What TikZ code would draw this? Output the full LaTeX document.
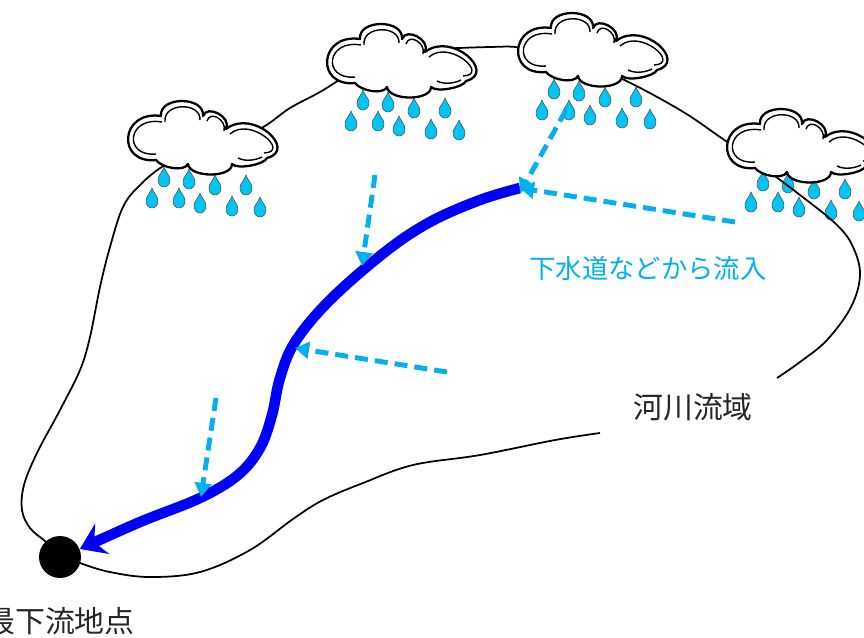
\documentclass[tikz,border=0pt]{standalone}
\usepackage{fontspec}
\newfontfamily\jp{Noto Sans CJK JP}
\usetikzlibrary{arrows.meta,positioning}

\definecolor{inflowc}{RGB}{0,176,240}
\definecolor{rainc}{RGB}{0,196,244}
\definecolor{riverc}{RGB}{0,0,250}

\newcommand{\dropspots}{36/78,61/80,87/86,118/86,24/99,51/99,72/104,104/107,132/108}

\tikzset{
	basin/.style={line width=1pt},
	raindrop/.style={fill=rainc,draw=black!70,line width=0.3pt},
	inflow/.style={inflowc,line width=2.8pt,dash pattern=on 7.4pt off 4pt,-{Triangle[length=8pt,width=9.5pt]}},
	river/.style={riverc,line width=6pt,-{Stealth[length=14pt,width=19pt,inset=5pt]}},
	pics/drop/.style={code={
		\filldraw[raindrop] (0,-11) .. controls (2,-5) and (6,-3) .. (6,2) .. controls (6,6.5) and (3,9) .. (0,9)
			.. controls (-3,9) and (-6,6.5) .. (-6,2) .. controls (-6,-3) and (-2,-5) .. (0,-11) -- cycle;
	}},
	pics/rain/.style={code={
		\foreach \dx/\dy in \dropspots
			\pic at (\dx,\dy) {drop};
	}},
	pics/cloud/.style={code={
		\filldraw[fill=white,line width=1.3pt,line join=round] (28,60)
			.. controls (-12,64) and (-8,10) .. (33,16)
			.. controls (31,-4) and (77,-4) .. (75,16)
			.. controls (79,4) and (104,17) .. (98,29)
			.. controls (125,8) and (170,50) .. (139,58)
			.. controls (137,64) and (110,70) .. (104,64)
			.. controls (104,78) and (62,78) .. (60,64)
			.. controls (56,72) and (34,68) .. (28,60) -- cycle;
		\draw[line width=0.8pt] (28,54) .. controls (-5,57) and (-1,16) .. (34,22);
		\draw[line width=0.8pt] (37,22) .. controls (35,2) and (73,2) .. (72,20);
		\draw[line width=0.8pt] (79,21) .. controls (82,10) and (99,20) .. (96,31);
		\draw[line width=0.8pt] (102,34) .. controls (122,16) and (163,52) .. (136,53);
		\draw[line width=0.8pt] (110,58) .. controls (118,62) and (128,60) .. (134,57);
	}}
}

\begin{document}
\begin{tikzpicture}[x=0.02cm,y=-0.02cm]
	\clip (0,0) rectangle (864,637);

	\pic at (128,100) {rain};
	\pic at (327,23) {rain};
	\pic at (518,12) {rain};
	\pic at (727,104) {rain};

	\draw[basin] plot[smooth,tension=.6] coordinates {(600,433) (555,440) (480,455) (413,465) (363,483) (323,500) (293,519)
		(250,550) (200,572) (150,577) (110,572) (80,563) (60,554) (45,541) (30,528) (22,510) (24,485) (37,453) (60,410)
		(80,370) (90,337) (100,287) (110,247) (123,207) (140,185) (165,165) (200,150) (240,138) (265,126) (290,108) (320,92)
		(353,72) (390,57) (427,50) (490,47) (523,48) (570,60) (620,78) (680,110) (720,137) (753,160) (800,195) (837,225)
		(853,247) (860,275) (851,307) (827,340) (800,362) (777,378)};

	\pic at (128,100) {cloud};
	\pic at (327,23) {cloud};
	\pic at (518,12) {cloud};
	\pic at (727,108) {cloud};

	\node[circle,fill=black,inner sep=0pt,minimum size=0.84cm] (outlet) at (60,557) {};
	\coordinate (src) at (520,188);

	\draw[river] plot[smooth,tension=.6] coordinates {(src) (480,200) (430,222) (385,252) (330,300) (295,342) (280,378)
		(272,415) (260,448) (238,475) (200,498) (140,522) (outlet.22)};

	\coordinate (r1) at (375,175);
	\coordinate (t1) at (362,266);
	\coordinate (r2) at (447,372);
	\coordinate (t2) at (295,348);
	\coordinate (r3) at (216,398);
	\coordinate (t3) at (201,497);
	\coordinate (r4) at (566,110);
	\coordinate (r5) at (735,222);

	\draw[inflow] (r1) -- (t1);
	\draw[inflow] (r2) -- (t2);
	\draw[inflow] (r3) -- (t3);
	\draw[inflow] (r4) -- ([yshift=-0.1cm]src);
	\draw[inflow] (r5) -- (src);

	\node[text=inflowc,font=\jp\fontsize{15}{18}\selectfont] (inflowlabel) at (648,268) {下水道などから流入};
	\node[text=black!85,font=\jp\fontsize{17}{20}\selectfont] (basinlabel) at (693,407) {河川流域};
	\node[text=black!85,font=\jp\fontsize{17}{20}\selectfont,below=13pt of outlet] (outletlabel) {最下流地点};
\end{tikzpicture}
\end{document}
